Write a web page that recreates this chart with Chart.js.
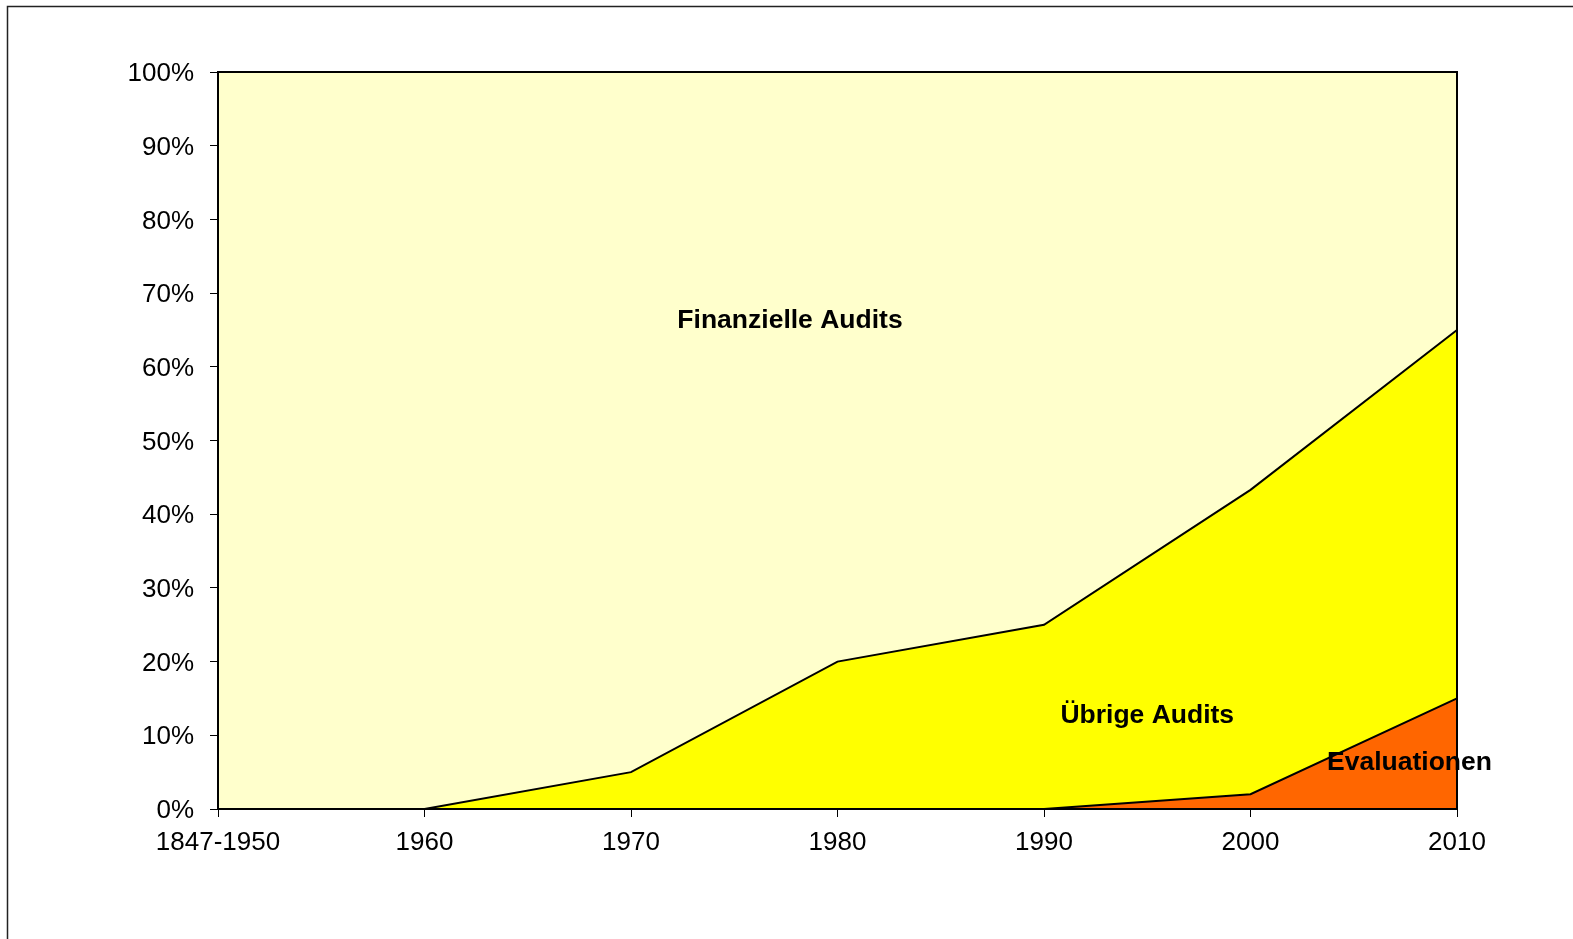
<!DOCTYPE html>
<html>
<head>
<meta charset="utf-8">
<script src="https://cdn.jsdelivr.net/npm/chart.js@4/dist/chart.umd.min.js"></script>
<style>
  html, body { margin: 0; padding: 0; background: #fff; }
  #wrap { width: 1573px; height: 939px; }
</style>
</head>
<body>
<div id="wrap"><canvas id="auditChart" width="1573" height="939"></canvas></div>
<script>
// Anteile der Prüfungsarten (in %), gestapelt
const years = ['1847-1950', '1960', '1970', '1980', '1990', '2000', '2010'];
const evaluationen = [0, 0, 0, 0, 0, 2, 15];
const uebrigeAudits = [0, 0, 5, 20, 25, 41.3, 50];
const finanzielleAudits = [100, 100, 95, 80, 75, 56.7, 35];

// Beschriftungen im Diagramm: [Text, Kategorie-Index, Wert in %]
const areaLabels = [
    ['Finanzielle Audits', 2.77, 66.2],
    ['Übrige Audits', 4.5, 12.7],
    ['Evaluationen', 5.77, 6.3]
];

const FONT = '"Liberation Sans", Arial, sans-serif';

// Rahmen um das ganze Bild und um die Zeichenfläche
const framePlugin = {
    id: 'frame',
    beforeDraw(chart) {
        const ctx = chart.ctx;
        ctx.save();
        ctx.strokeStyle = '#222';
        ctx.lineWidth = 1.5;
        ctx.strokeRect(7.5, 6.5, 3000, 3000);
        ctx.restore();
    },
    afterDatasetsDraw(chart) {
        const { ctx, chartArea: a } = chart;
        ctx.save();
        ctx.strokeStyle = '#000';
        ctx.lineWidth = 2;
        ctx.strokeRect(a.left, a.top, a.right - a.left, a.bottom - a.top);
        ctx.restore();
    }
};

const labelPlugin = {
    id: 'areaLabels',
    afterDraw(chart) {
        const { ctx, scales } = chart;
        ctx.save();
        ctx.font = `bold 26.5px ${FONT}`;
        ctx.fillStyle = '#000';
        ctx.textAlign = 'center';
        ctx.textBaseline = 'middle';
        areaLabels.forEach(([text, xi, yv]) => {
            ctx.fillText(text, scales.x.getPixelForValue(xi), scales.y.getPixelForValue(yv));
        });
        ctx.restore();
    }
};

const line = { borderColor: '#000', borderWidth: 2, pointRadius: 0, tension: 0 };

new Chart(document.getElementById('auditChart').getContext('2d'), {
    type: 'line',
    data: {
        labels: years,
        datasets: [
            { label: 'Evaluationen', data: evaluationen, backgroundColor: '#FF6600', fill: 'origin', ...line },
            { label: 'Übrige Audits', data: uebrigeAudits, backgroundColor: '#FFFF00', fill: '-1', ...line },
            { label: 'Finanzielle Audits', data: finanzielleAudits, backgroundColor: '#FFFFCC', fill: '-1', ...line }
        ]
    },
    options: {
        responsive: false,
        animation: false,
        layout: { padding: { top: 72, right: 116, left: 0, bottom: 0 } },
        plugins: {
            legend: { display: false },
            tooltip: { enabled: false }
        },
        scales: {
            x: {
                offset: false,
                grid: { drawOnChartArea: false, tickLength: 8, color: '#000', lineWidth: 1 },
                border: { display: true, color: '#000', width: 2 },
                ticks: { color: '#000', font: { family: FONT, size: 26 }, padding: 10, maxRotation: 0, autoSkip: false },
                afterFit(scale) { scale.height = 130; }
            },
            y: {
                stacked: true,
                min: 0,
                max: 100,
                grid: { drawOnChartArea: false, tickLength: 8, color: '#000', lineWidth: 1 },
                border: { display: true, color: '#000', width: 2 },
                ticks: {
                    stepSize: 10,
                    color: '#000',
                    font: { family: FONT, size: 26 },
                    padding: 16,
                    labelOffset: 2,
                    callback: v => v + '%'
                },
                afterFit(scale) { scale.width = 218; }
            }
        }
    },
    plugins: [framePlugin, labelPlugin]
});
</script>
</body>
</html>
